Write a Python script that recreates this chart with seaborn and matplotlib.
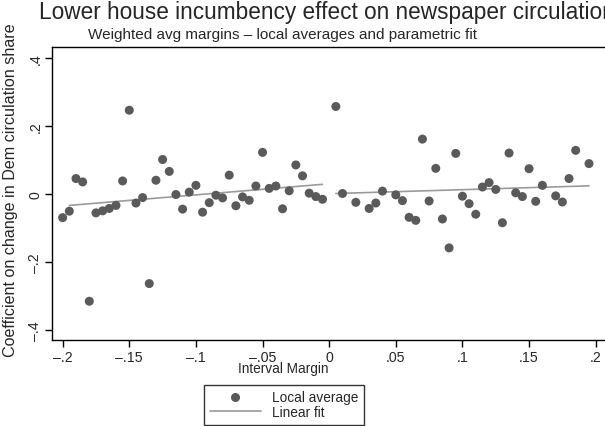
import numpy as np
import pandas as pd
import matplotlib
matplotlib.use("Agg")
import matplotlib.pyplot as plt
import seaborn as sns
from matplotlib.lines import Line2D

# Local averages, left of the threshold
left_margin = [-0.2, -0.195, -0.19, -0.185, -0.18, -0.175, -0.17, -0.165, -0.16, -0.155,
               -0.15, -0.145, -0.14, -0.135, -0.13, -0.125, -0.12, -0.115, -0.11, -0.105,
               -0.1, -0.095, -0.09, -0.085, -0.08, -0.075, -0.07, -0.065, -0.06, -0.055,
               -0.05, -0.045, -0.04, -0.035, -0.03, -0.025, -0.02, -0.015, -0.01, -0.005]
left_coef = [-0.070, -0.051, 0.045, 0.035, -0.316, -0.056, -0.050, -0.043, -0.034, 0.038,
             0.246, -0.027, -0.011, -0.264, 0.040, 0.101, 0.066, -0.002, -0.045, 0.005,
             0.025, -0.054, -0.026, -0.004, -0.012, 0.055, -0.035, -0.009, -0.019, 0.023,
             0.122, 0.016, 0.023, -0.044, 0.009, 0.085, 0.053, 0.002, -0.008, -0.016]

# Local averages, right of the threshold
right_margin = [0.005, 0.01, 0.02, 0.03, 0.035, 0.04, 0.05, 0.055, 0.06, 0.065,
                0.07, 0.075, 0.08, 0.085, 0.09, 0.095, 0.1, 0.105, 0.11, 0.115,
                0.12, 0.125, 0.13, 0.135, 0.14, 0.145, 0.15, 0.155, 0.16, 0.17,
                0.175, 0.18, 0.185, 0.195]
right_coef = [0.257, 0.001, -0.025, -0.043, -0.027, 0.008, -0.003, -0.020, -0.069, -0.078,
              0.161, -0.021, 0.075, -0.074, -0.159, 0.119, -0.007, -0.029, -0.060, 0.020,
              0.033, 0.013, -0.085, 0.120, 0.003, -0.008, 0.074, -0.022, 0.025, -0.006,
              -0.024, 0.045, 0.128, 0.089]

# Linear fit end points
fit_left_x = [-0.195, -0.005]
fit_left_y = [-0.034, 0.028]
fit_right_x = [0.005, 0.195]
fit_right_y = [0.001, 0.0235]

x_ticks = [-0.2, -0.15, -0.1, -0.05, 0, 0.05, 0.1, 0.15, 0.2]
x_labels = ["\u2013.2", "\u2013.15", "\u2013.1", "\u2013.05", "0", ".05", ".1", ".15", ".2"]
y_ticks = [-0.4, -0.2, 0, 0.2, 0.4]
y_labels = ["\u2013.4", "\u2013.2", "0", ".2", ".4"]

DOT_CLR = "#5a5a5a"
LINE_CLR = "#9a9a9a"

sns.set_theme(style="white")
plt.rcParams["font.family"] = ["Liberation Sans", "DejaVu Sans"]

W, H = 605, 427
fig = plt.figure(figsize=(W / 100, H / 100), dpi=100)
ax = fig.add_axes([52 / W, 1 - 341 / H, (W - 52) / W, (341 - 48) / H])

pts = pd.DataFrame({"margin": left_margin + right_margin,
                    "coef": left_coef + right_coef})
sns.scatterplot(data=pts, x="margin", y="coef", color=DOT_CLR, s=42,
                edgecolor="none", ax=ax, zorder=3)

fits = pd.DataFrame({"margin": fit_left_x + fit_right_x,
                     "coef": fit_left_y + fit_right_y,
                     "side": ["L", "L", "R", "R"]})
for side, sub in fits.groupby("side"):
    sns.lineplot(data=sub, x="margin", y="coef", color=LINE_CLR, lw=1.2,
                 ax=ax, zorder=2)

ax.set_xlim(-0.208, 0.207)
ax.set_ylim(-0.430, 0.432)
ax.set_xticks(x_ticks)
ax.set_xticklabels(x_labels, fontsize=10.2)
ax.set_yticks(y_ticks)
ax.set_yticklabels(y_labels, fontsize=10.2, rotation=90, va="center")
ax.tick_params(axis="both", direction="out", length=5, width=1, color="black",
               pad=2, bottom=True, left=True)
for s in ["left", "bottom", "top"]:
    ax.spines[s].set_color("black")
    ax.spines[s].set_linewidth(1)
ax.spines["right"].set_visible(False)
ax.set_xlabel("")
ax.set_ylabel("")
ax.grid(False)

fig.text(39 / W, 1 - 12 / H, "Lower house incumbency effect on newspaper circulation",
         fontsize=16.3, ha="left", va="center")
fig.text(283 / W, 1 - 35 / H, "Weighted avg margins \u2013 local averages and parametric fit",
         fontsize=11, ha="center", va="center")
fig.text(283 / W, 1 - 369 / H, "Interval Margin", fontsize=9.8, ha="center", va="center")
fig.text(11 / W, 1 - 190 / H, "Coefficient on change in Dem circulation share",
         fontsize=11.6, ha="center", va="center", rotation=90)

handles = [Line2D([], [], marker="o", ls="none", color=DOT_CLR, markersize=5.5),
           Line2D([], [], color=LINE_CLR, lw=1.2)]
leg = fig.legend(handles, ["Local average", "Linear fit"], loc="upper center",
                 bbox_to_anchor=(284 / W, 1 - 386 / H), frameon=True, fontsize=9.8,
                 handlelength=3.8, handletextpad=0.8, borderpad=0.4, labelspacing=0.05,
                 fancybox=False, borderaxespad=0)
leg.get_frame().set_edgecolor("black")
leg.get_frame().set_linewidth(1)

fig.savefig("out.png", dpi=100)
